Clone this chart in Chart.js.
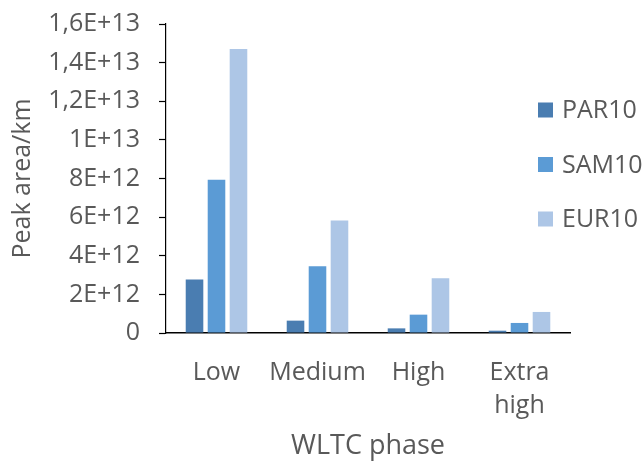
<!DOCTYPE html>
<html>
<head>
<meta charset="utf-8">
<script src="https://cdn.jsdelivr.net/npm/chart.js@4/dist/chart.umd.min.js"></script>
<style>
  html, body { margin: 0; padding: 0; background: #ffffff; }
  #wrap { width: 644px; height: 461px; }
</style>
</head>
<body>
<div id="wrap"><canvas id="chart" width="644" height="461"></canvas></div>
<script>
// WLTC phases on the category axis
const phases = ['Low', 'Medium', 'High', ['Extra', 'high']];

// Peak area per km for each fuel
const par10 = [2.77e12, 0.64e12, 0.24e12, 0.12e12];
const sam10 = [7.93e12, 3.45e12, 0.95e12, 0.52e12];
const eur10 = [14.7e12, 5.83e12, 2.83e12, 1.09e12];

const seriesNames = ['PAR10', 'SAM10', 'EUR10'];
const seriesColors = ['#4a7db1', '#5b9bd5', '#adc6e6'];

// Value axis labels, written with a decimal comma
const yTickLabels = ['0', '2E+12', '4E+12', '6E+12', '8E+12', '1E+13', '1,2E+13', '1,4E+13', '1,6E+13'];

const FONT = "'Open Sans', 'Liberation Sans', sans-serif";
const TEXT = '#595959';

// Legend drawn as a column that sits over the right part of the plot
const sideLegend = {
  id: 'sideLegend',
  afterDraw(chart, args, opts) {
    const ctx = chart.ctx;
    ctx.save();
    ctx.font = opts.size + 'px ' + FONT;
    ctx.textBaseline = 'middle';
    ctx.textAlign = 'left';
    chart.data.datasets.forEach((ds, i) => {
      const y = opts.y + i * opts.gap;
      ctx.fillStyle = ds.backgroundColor;
      ctx.fillRect(opts.x, y - opts.box / 2, opts.box, opts.box);
      ctx.fillStyle = TEXT;
      ctx.fillText(ds.label, opts.x + opts.box + opts.textGap, y + 1);
    });
    ctx.restore();
  }
};

new Chart(document.getElementById('chart'), {
  type: 'bar',
  data: {
    labels: phases,
    datasets: [
      { label: seriesNames[0], data: par10, backgroundColor: seriesColors[0] },
      { label: seriesNames[1], data: sam10, backgroundColor: seriesColors[1] },
      { label: seriesNames[2], data: eur10, backgroundColor: seriesColors[2] }
    ]
  },
  options: {
    responsive: false,
    animation: false,
    devicePixelRatio: 1,
    categoryPercentage: 0.653,
    barPercentage: 0.8,
    layout: { padding: { left: 0, right: 74, top: 24, bottom: 0 } },
    plugins: {
      legend: { display: false },
      tooltip: { enabled: false },
      sideLegend: { x: 538, y: 110, gap: 54.5, box: 15, textGap: 9, size: 25 }
    },
    scales: {
      x: {
        grid: { display: false, drawTicks: false },
        border: { display: true, color: '#000000', width: 1.5 },
        ticks: {
          color: TEXT,
          font: { family: FONT, size: 25, lineHeight: 1.32 },
          padding: 23,
          maxRotation: 0,
          autoSkip: false
        },
        title: {
          display: true,
          text: 'WLTC phase',
          color: TEXT,
          font: { family: FONT, size: 27, lineHeight: 1.1 },
          padding: { top: 0, bottom: 0 }
        },
        afterFit(scale) {
          scale.height = 128;
          scale.paddingLeft = 0;
          scale.paddingRight = 0;
        }
      },
      y: {
        min: 0,
        max: 1.6e13,
        grid: {
          display: true,
          drawOnChartArea: false,
          drawTicks: true,
          tickLength: 7,
          tickWidth: 1.2,
          tickColor: '#000000'
        },
        border: { display: true, color: '#000000', width: 1.2 },
        ticks: {
          stepSize: 2e12,
          color: TEXT,
          font: { family: FONT, size: 25 },
          padding: 19,
          callback: (value, index) => yTickLabels[index]
        },
        title: {
          display: true,
          text: 'Peak area/km',
          color: TEXT,
          font: { family: FONT, size: 25, lineHeight: 1.2 },
          padding: { top: 8, bottom: 0 }
        },
        afterFit(scale) {
          scale.width = 166;
          scale.paddingTop = 0;
          scale.paddingBottom = 0;
        }
      }
    }
  },
  plugins: [sideLegend]
});
</script>
</body>
</html>
